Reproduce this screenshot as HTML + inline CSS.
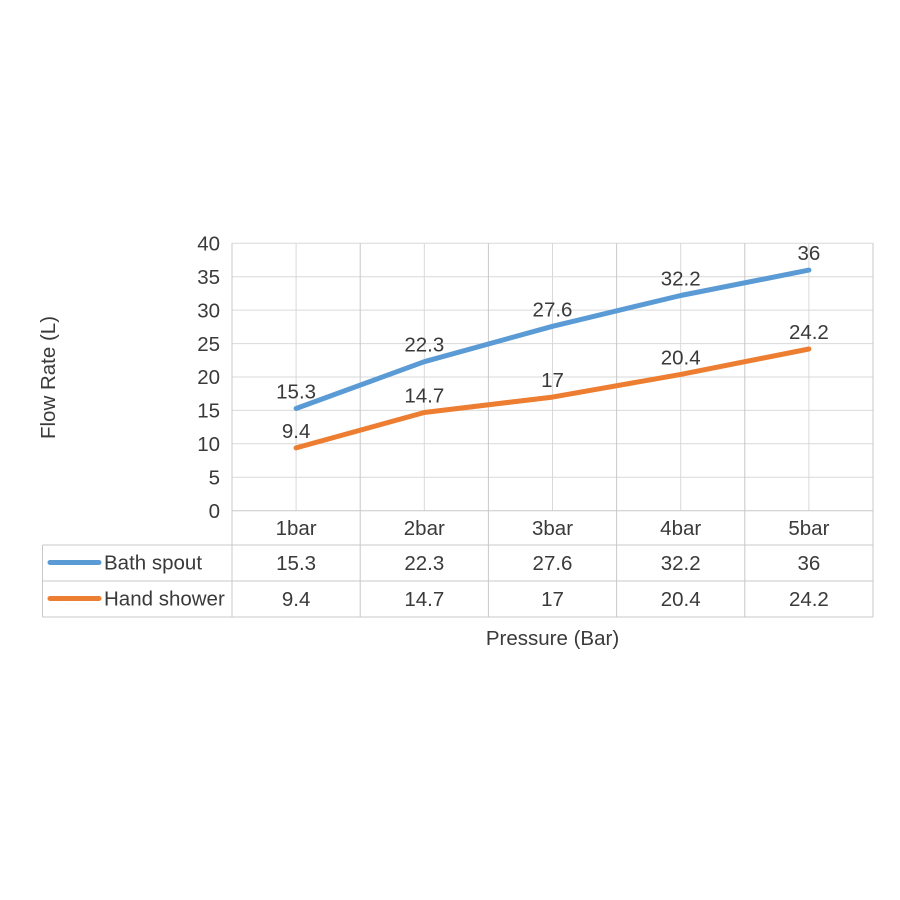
<!DOCTYPE html>
<html><head><meta charset="utf-8"><style>
html,body{margin:0;padding:0;background:#fff;}
svg{display:block;}
text{font-family:"Liberation Sans",sans-serif;font-size:20.5px;fill:#3a3a3a;}
</style></head><body>
<svg width="900" height="900" viewBox="0 0 900 900" xmlns="http://www.w3.org/2000/svg">
<rect width="900" height="900" fill="#fff"/>
<g stroke="#d9d9d9" stroke-width="1" fill="none">
<line x1="232" y1="243.3" x2="873" y2="243.3"/>
<line x1="232" y1="276.7" x2="873" y2="276.7"/>
<line x1="232" y1="310.1" x2="873" y2="310.1"/>
<line x1="232" y1="343.6" x2="873" y2="343.6"/>
<line x1="232" y1="377" x2="873" y2="377"/>
<line x1="232" y1="410.4" x2="873" y2="410.4"/>
<line x1="232" y1="443.8" x2="873" y2="443.8"/>
<line x1="232" y1="477.3" x2="873" y2="477.3"/>
<line x1="296.1" y1="243.3" x2="296.1" y2="510.7"/>
<line x1="424.3" y1="243.3" x2="424.3" y2="510.7"/>
<line x1="552.5" y1="243.3" x2="552.5" y2="510.7"/>
<line x1="680.7" y1="243.3" x2="680.7" y2="510.7"/>
<line x1="808.9" y1="243.3" x2="808.9" y2="510.7"/>
</g>
<g stroke="#c8c8c8" stroke-width="1" fill="none">
<line x1="232" y1="243.3" x2="232" y2="617"/>
<line x1="360.2" y1="243.3" x2="360.2" y2="617"/>
<line x1="488.4" y1="243.3" x2="488.4" y2="617"/>
<line x1="616.6" y1="243.3" x2="616.6" y2="617"/>
<line x1="744.8" y1="243.3" x2="744.8" y2="617"/>
<line x1="873" y1="243.3" x2="873" y2="617"/>
<line x1="232" y1="510.7" x2="873" y2="510.7"/>
<line x1="42.5" y1="545" x2="873" y2="545"/>
<line x1="42.5" y1="581" x2="873" y2="581"/>
<line x1="42.5" y1="617" x2="873" y2="617"/>
<line x1="42.5" y1="545" x2="42.5" y2="617"/>
</g>
<g text-anchor="end">
<text x="220" y="250.5">40</text>
<text x="220" y="283.9">35</text>
<text x="220" y="317.3">30</text>
<text x="220" y="350.8">25</text>
<text x="220" y="384.2">20</text>
<text x="220" y="417.6">15</text>
<text x="220" y="451">10</text>
<text x="220" y="484.5">5</text>
<text x="220" y="517.9">0</text>
</g>
<text transform="translate(55,377.5) rotate(-90)" text-anchor="middle">Flow Rate (L)</text>
<polyline points="296.1,408.5 424.3,361.7 552.5,326.3 680.7,295.5 808.9,270.1" fill="none" stroke="#5B9BD5" stroke-width="5" stroke-linejoin="round" stroke-linecap="round"/>
<polyline points="296.1,447.9 424.3,412.5 552.5,397.1 680.7,374.4 808.9,349" fill="none" stroke="#ED7D31" stroke-width="5" stroke-linejoin="round" stroke-linecap="round"/>
<g text-anchor="middle">
<text x="296.1" y="398.5">15.3</text>
<text x="424.3" y="351.7">22.3</text>
<text x="552.5" y="316.3">27.6</text>
<text x="680.7" y="285.5">32.2</text>
<text x="808.9" y="260.1">36</text>
<text x="296.1" y="437.9">9.4</text>
<text x="424.3" y="402.5">14.7</text>
<text x="552.5" y="387.1">17</text>
<text x="680.7" y="364.4">20.4</text>
<text x="808.9" y="339">24.2</text>
<text x="296.1" y="535">1bar</text>
<text x="424.3" y="535">2bar</text>
<text x="552.5" y="535">3bar</text>
<text x="680.7" y="535">4bar</text>
<text x="808.9" y="535">5bar</text>
<text x="296.1" y="570">15.3</text>
<text x="424.3" y="570">22.3</text>
<text x="552.5" y="570">27.6</text>
<text x="680.7" y="570">32.2</text>
<text x="808.9" y="570">36</text>
<text x="296.1" y="606">9.4</text>
<text x="424.3" y="606">14.7</text>
<text x="552.5" y="606">17</text>
<text x="680.7" y="606">20.4</text>
<text x="808.9" y="606">24.2</text>
<text x="552.5" y="645">Pressure (Bar)</text>
</g>
<line x1="50" y1="562.5" x2="99" y2="562.5" stroke="#5B9BD5" stroke-width="5" stroke-linecap="round"/>
<line x1="50" y1="598.5" x2="99" y2="598.5" stroke="#ED7D31" stroke-width="5" stroke-linecap="round"/>
<text x="104" y="569.5">Bath spout</text>
<text x="104" y="605.5">Hand shower</text>
</svg>
</body></html>
